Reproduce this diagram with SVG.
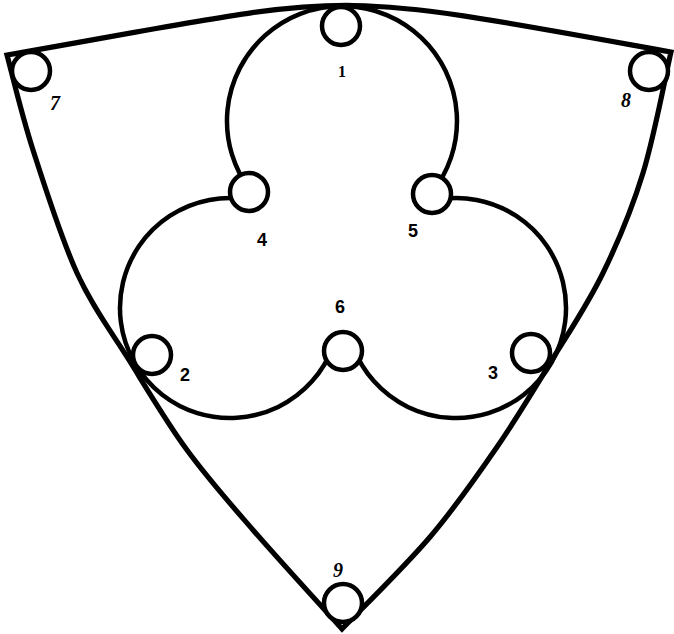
<svg xmlns="http://www.w3.org/2000/svg" width="674" height="634" viewBox="0 0 674 634">
<style>
.edge{fill:none;stroke:#000;stroke-width:5.2;stroke-linejoin:miter;stroke-miterlimit:10}
.lobe{fill:none;stroke:#000;stroke-width:4.5}
.node circle{fill:#fff;stroke:#000;stroke-width:4.5}
.sans{font-family:"Liberation Sans",Arial,sans-serif;font-weight:bold;font-size:18px;text-anchor:middle;fill:#000}
.serif{font-family:"Liberation Serif","Times New Roman",serif;font-style:italic;font-weight:bold;font-size:20px;text-anchor:middle;fill:#000}
.upright{font-style:normal;font-size:16px}
</style>
<rect width="674" height="634" fill="#fff"/>
<g id="connectors">
<path class="edge" d="M7,55 C367,-8 310,-13 671,52 C666.3,72.2 654.3,136.2 643,173 C631.7,209.8 618.2,241.8 603,273 C587.8,304.2 569.7,331 552,360 C534.3,389 517.3,417.5 497,447 C476.7,476.5 455.8,506.7 430,537 C404.2,567.3 356.7,613.7 342,629 C327.2,612.5 278.8,559.8 253,530 C227.2,500.2 207.7,478.3 187,450 C166.3,421.7 147.3,389.5 129,360 C110.7,330.5 93,308 77,273 C61,238 44.7,186.3 33,150 C21.3,113.7 11.3,70.8 7,55 Z"/>
<path class="lobe" d="M250.6,190.8 A115,115 0 1 1 431.3,193.4"/>
<path class="lobe" d="M249.1,199.7 A110,110 0 1 0 332.8,347.1"/>
<path class="lobe" d="M436.9,199.7 A110,110 0 1 1 353.2,347.1"/>
</g>
<g id="node1" class="node"><circle cx="341" cy="26" r="19"/><text class="serif upright" x="342" y="77">1</text></g>
<g id="node2" class="node"><circle cx="152" cy="355" r="19"/><text class="sans" x="185" y="381">2</text></g>
<g id="node3" class="node"><circle cx="531" cy="353" r="19"/><text class="sans" x="493" y="379">3</text></g>
<g id="node4" class="node"><circle cx="249" cy="192" r="19"/><text class="sans" x="262" y="246">4</text></g>
<g id="node5" class="node"><circle cx="432" cy="194" r="19"/><text class="sans" x="413" y="237">5</text></g>
<g id="node6" class="node"><circle cx="343" cy="351" r="19"/><text class="sans" x="340" y="313">6</text></g>
<g id="node7" class="node"><circle cx="31" cy="71" r="19"/><text class="serif" x="55" y="110">7</text></g>
<g id="node8" class="node"><circle cx="649" cy="71" r="19"/><text class="serif" x="626" y="107">8</text></g>
<g id="node9" class="node"><circle cx="343" cy="603" r="19"/><text class="serif" x="338" y="577">9</text></g>
</svg>
